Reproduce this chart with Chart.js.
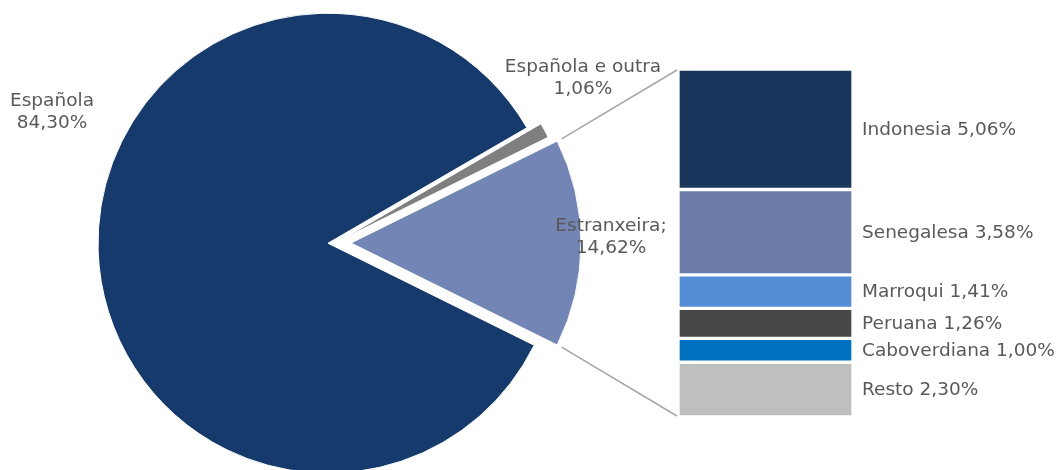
<!DOCTYPE html>
<html>
<head>
<meta charset="utf-8">
<script src="https://cdn.jsdelivr.net/npm/chart.js@4"></script>
<style>
  html, body { margin: 0; padding: 0; background: #fff; overflow: hidden; }
  #wrap { position: relative; width: 1061px; height: 470px; overflow: hidden; }
  #pie { position: absolute; left: 0; top: 0; }
  #bar { position: absolute; left: 600px; top: 0; }
</style>
</head>
<body>
<div id="wrap">
  <canvas id="pie" width="1061" height="486"></canvas>
  <canvas id="bar" width="461" height="470"></canvas>
</div>
<script>
// pie: nacionalidade
var pieLabels = ['Estranxeira;', 'Española', 'Española e outra'];
var pieValues = [14.62, 84.30, 1.06];
var pieColors = ['#7385b5', '#153a6b', '#7f7f7f'];
var pieExplode = [16, 7, 8];

// bar: detalle estranxeira
var barLabels = ['Indonesia', 'Senegalesa', 'Marroqui', 'Peruana', 'Caboverdiana', 'Resto'];
var barValues = [5.06, 3.58, 1.41, 1.26, 1.00, 2.30];
var barColors = ['#1a365d', '#6b7ba8', '#558ed5', '#474747', '#0070c0', '#bfbfbf'];

var FONT = '18.5px "DejaVu Sans", Verdana, sans-serif';
var TEXT = '#595959';
var BAR_LEFT = 600; // css left of bar canvas

function pct(v) {
  return v.toFixed(2).replace('.', ',') + '%';
}

var barSum = barValues.reduce(function (a, b) { return a + b; }, 0);
var pieSum = pieValues.reduce(function (a, b) { return a + b; }, 0);

var barText = {
  id: 'barText',
  afterDraw: function (chart) {
    var ctx = chart.ctx;
    ctx.save();
    ctx.font = FONT;
    ctx.fillStyle = TEXT;
    ctx.textAlign = 'left';
    ctx.textBaseline = 'middle';
    chart.data.datasets.forEach(function (ds, i) {
      var el = chart.getDatasetMeta(i).data[0];
      ctx.fillText(barLabels[i] + ' ' + pct(barValues[i]), el.x + el.width / 2 + 9, (el.y + el.base) / 2 + 1);
    });
    ctx.restore();
  }
};

var barChart = new Chart(document.getElementById('bar').getContext('2d'), {
  type: 'bar',
  data: {
    labels: [''],
    datasets: barLabels.map(function (l, i) {
      return {
        label: l,
        data: [barValues[i]],
        backgroundColor: barColors[i],
        borderColor: '#ffffff',
        borderWidth: 2,
        borderSkipped: false,
        barPercentage: 1,
        categoryPercentage: 1
      };
    })
  },
  options: {
    responsive: false,
    animation: false,
    events: [],
    layout: { padding: { left: 78, right: 208, top: 69, bottom: 53 } },
    scales: {
      x: { stacked: true, display: false },
      y: { stacked: true, display: false, reverse: true, min: 0, max: barSum }
    },
    plugins: { legend: { display: false }, tooltip: { enabled: false } }
  },
  plugins: [barText]
});

// exploded slices: shift arcs only while drawing
var explode = {
  id: 'explode',
  beforeDatasetsDraw: function (chart) {
    chart.getDatasetMeta(0).data.forEach(function (arc, i) {
      var mid = (arc.startAngle + arc.endAngle) / 2;
      arc.x += Math.cos(mid) * pieExplode[i];
      arc.y += Math.sin(mid) * pieExplode[i];
    });
  },
  afterDatasetsDraw: function (chart) {
    chart.getDatasetMeta(0).data.forEach(function (arc, i) {
      var mid = (arc.startAngle + arc.endAngle) / 2;
      arc.x -= Math.cos(mid) * pieExplode[i];
      arc.y -= Math.sin(mid) * pieExplode[i];
    });
  }
};

// label anchors (center x, first line y)
var pieLabelPos = [[611, 226], [52, 101], [583, 67]];

var pieText = {
  id: 'pieText',
  afterDraw: function (chart) {
    var ctx = chart.ctx;
    var arcs = chart.getDatasetMeta(0).data;
    var a = arcs[0];
    var mid = (a.startAngle + a.endAngle) / 2;
    var cx = a.x + Math.cos(mid) * pieExplode[0];
    var cy = a.y + Math.sin(mid) * pieExplode[0];
    var r = a.outerRadius + 5;
    var area = barChart.chartArea;

    ctx.save();
    ctx.strokeStyle = '#a6a6a6';
    ctx.lineWidth = 1.5;
    ctx.beginPath();
    ctx.moveTo(cx + Math.cos(a.startAngle) * r, cy + Math.sin(a.startAngle) * r);
    ctx.lineTo(BAR_LEFT + area.left - 1, area.top + 1);
    ctx.moveTo(cx + Math.cos(a.endAngle) * r, cy + Math.sin(a.endAngle) * r);
    ctx.lineTo(BAR_LEFT + area.left - 1, area.bottom - 1);
    ctx.stroke();

    ctx.font = FONT;
    ctx.fillStyle = TEXT;
    ctx.textAlign = 'center';
    ctx.textBaseline = 'middle';
    pieLabels.forEach(function (l, i) {
      var p = pieLabelPos[i];
      ctx.fillText(l, p[0], p[1]);
      ctx.fillText(pct(pieValues[i]), p[0], p[1] + 22);
    });
    ctx.restore();
  }
};

new Chart(document.getElementById('pie').getContext('2d'), {
  type: 'pie',
  data: {
    labels: pieLabels,
    datasets: [{
      data: pieValues,
      backgroundColor: pieColors,
      borderColor: '#ffffff',
      borderWidth: 1,
      clip: false
    }]
  },
  options: {
    responsive: false,
    animation: false,
    events: [],
    rotation: 90 - (pieValues[0] / pieSum * 360) / 2,
    radius: 230,
    layout: { padding: { left: 0, top: 0, right: 1061 - 670, bottom: 0 } },
    plugins: { legend: { display: false }, tooltip: { enabled: false } }
  },
  plugins: [explode, pieText]
});
</script>
</body>
</html>
